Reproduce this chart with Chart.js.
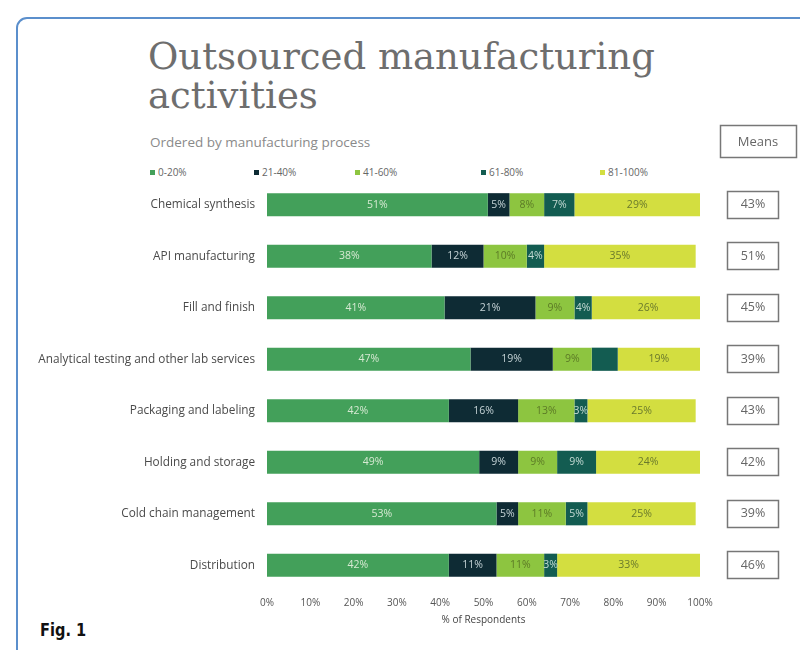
<!DOCTYPE html>
<html>
<head>
<meta charset="utf-8">
<script src="https://cdn.jsdelivr.net/npm/chart.js@4.4.0/dist/chart.umd.min.js"></script>
<style>
body { margin: 0; background: #fff; width: 800px; height: 650px; overflow: hidden; position: relative; font-family: "Open Sans", sans-serif; }
#frame { position: absolute; left: 16px; top: 17px; width: 820px; height: 700px; border: 2px solid #5b8fcc; border-radius: 11px; }
#title { position: absolute; left: 148px; top: 37px; font-family: "DejaVu Serif", serif; font-size: 37px; line-height: 39px; color: #6e6e6e; }
#subtitle { position: absolute; left: 150px; top: 133px; font-size: 13.5px; color: #8a8a8a; }
#legend { position: absolute; left: 0; top: 165px; width: 800px; height: 14px; font-size: 10px; color: #666; }
#legend span.item { position: absolute; white-space: nowrap; }
#legend span.sw { display: inline-block; width: 5px; height: 5px; margin-right: 3px; vertical-align: 1px; }
#fig { position: absolute; left: 40px; top: 619px; font-family: "DejaVu Sans Condensed", "Liberation Sans", sans-serif; font-weight: bold; font-size: 18px; color: #111; transform: scaleX(0.9); transform-origin: left; }
canvas { position: absolute; left: 0; top: 0; }
</style>
</head>
<body>
<div id="frame"></div>
<div id="title">Outsourced manufacturing<br>activities</div>
<div id="subtitle">Ordered by manufacturing process</div>
<div id="legend"></div>
<div id="fig">Fig. 1</div>
<canvas id="chart" width="800" height="650"></canvas>
<script>
const categories = [
    'Chemical synthesis',
    'API manufacturing',
    'Fill and finish',
    'Analytical testing and other lab services',
    'Packaging and labeling',
    'Holding and storage',
    'Cold chain management',
    'Distribution'
];
const bandLabels = ['0-20%', '21-40%', '41-60%', '61-80%', '81-100%'];
const band0to20 = [51, 38, 41, 47, 42, 49, 53, 42];
const band21to40 = [5, 12, 21, 19, 16, 9, 5, 11];
const band41to60 = [8, 10, 9, 9, 13, 9, 11, 11];
const band61to80 = [7, 4, 4, 6, 3, 9, 5, 3];
const band81to100 = [29, 35, 26, 19, 25, 24, 25, 33];
const means = [43, 51, 45, 39, 43, 42, 39, 46];
const xTicks = [0, 10, 20, 30, 40, 50, 60, 70, 80, 90, 100];
// segment without a printed label in the original (row, band)
const unlabeled = [[3, 3]];

const colors = ['#43a05a', '#0e2b34', '#8dc540', '#135c51', '#d3de40'];
const textColors = ['#d6e9d2', '#c5d3d6', '#5c7a26', '#c4dad3', '#6b7a2c'];
const legendX = [150, 254, 355, 481, 600];

const bands = [band0to20, band21to40, band41to60, band61to80, band81to100];

// legend
const legend = document.getElementById('legend');
legend.innerHTML = bandLabels.map((l, i) =>
    `<span class="item" style="left:${legendX[i]}px"><span class="sw" style="background:${colors[i]}"></span>${l}</span>`
).join('');

const segmentLabels = {
    id: 'segmentLabels',
    afterDatasetsDraw(chart) {
        const c = chart.ctx;
        c.save();
        c.font = '10.5px "Open Sans"';
        c.textAlign = 'center';
        c.textBaseline = 'middle';
        chart.data.datasets.forEach((ds, d) => {
            chart.getDatasetMeta(d).data.forEach((bar, i) => {
                if (unlabeled.some(u => u[0] === i && u[1] === d)) return;
                c.fillStyle = textColors[d];
                c.fillText(ds.data[i] + '%', (bar.x + bar.base) / 2, bar.y);
            });
        });
        c.restore();
    }
};

const meansBoxes = {
    id: 'meansBoxes',
    afterDraw(chart) {
        const c = chart.ctx;
        const y = chart.scales.y;
        c.save();
        c.strokeStyle = '#777';
        c.lineWidth = 1.5;
        c.fillStyle = '#666';
        c.textAlign = 'center';
        c.textBaseline = 'middle';
        c.font = '13px "Open Sans"';
        c.strokeRect(720.5, 125.5, 76, 32);
        c.fillText('Means', 758, 142);
        c.font = '12.5px "Open Sans"';
        means.forEach((m, i) => {
            const py = y.getPixelForValue(i);
            c.strokeRect(727.5, Math.round(py) - 13.5, 51, 27);
            c.fillText(m + '%', 753, py);
        });
        c.restore();
    }
};

const ctx = document.getElementById('chart').getContext('2d');
new Chart(ctx, {
    type: 'bar',
    data: {
        labels: categories,
        datasets: bands.map((b, i) => ({
            label: bandLabels[i],
            data: b,
            backgroundColor: colors[i],
            borderWidth: 0,
            barPercentage: 0.45,
            categoryPercentage: 1
        }))
    },
    options: {
        indexAxis: 'y',
        responsive: false,
        animation: false,
        layout: { padding: { left: 0, top: 179, right: 100, bottom: 19 } },
        plugins: {
            legend: { display: false },
            tooltip: { enabled: false }
        },
        scales: {
            x: {
                stacked: true,
                min: 0,
                max: 100,
                afterBuildTicks: s => { s.ticks = xTicks.map(v => ({ value: v })); },
                afterFit: s => { s.height = 40; },
                grid: { display: false, drawTicks: false },
                border: { display: false },
                ticks: { padding: 6, color: '#555', font: { family: 'Open Sans', size: 10 }, callback: v => v + '%' },
                title: { display: true, text: '% of Respondents', color: '#444', font: { family: 'Open Sans', size: 10 }, padding: { top: 0, bottom: 5 } }
            },
            y: {
                stacked: true,
                afterFit: s => { s.width = 267; },
                grid: { display: false, drawTicks: false },
                border: { display: false },
                ticks: { padding: 12, color: '#4a4a4a', font: { family: 'Open Sans', size: 11.8 } }
            }
        }
    },
    plugins: [segmentLabels, meansBoxes]
});
</script>
</body>
</html>
